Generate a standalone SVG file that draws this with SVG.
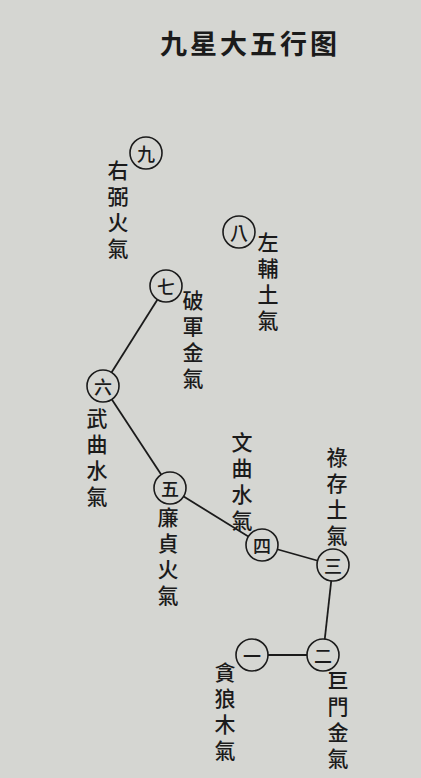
<svg xmlns="http://www.w3.org/2000/svg" width="421" height="778" viewBox="0 0 421 778">
<style>
.bg{fill:#d5d6d2}
.t{font-family:"Noto Sans CJK TC","Noto Sans CJK SC",sans-serif;fill:#1b1b1b;text-anchor:middle;dominant-baseline:central}
.num{font-size:18px;font-weight:500}
.lbl{font-family:"Noto Sans CJK TC","Noto Sans CJK SC",sans-serif;fill:#1b1b1b;font-size:21px;font-weight:500;writing-mode:vertical-rl;letter-spacing:5px}
.title{font-family:"Noto Sans CJK SC",sans-serif;font-size:27px;font-weight:bold;fill:#1b1b1b;text-anchor:middle;dominant-baseline:central;letter-spacing:3px}
.c{fill:#d5d6d2;stroke:#1b1b1b;stroke-width:1.6}
.ln{stroke:#1b1b1b;stroke-width:1.8;fill:none}
</style>
<rect class="bg" x="0" y="0" width="421" height="778"/>
<text class="title" x="250" y="42">九星大五行图</text>
<g id="connectors">
<line class="ln" x1="166" y1="286" x2="103" y2="386"/>
<line class="ln" x1="103" y1="386" x2="170" y2="488"/>
<line class="ln" x1="170" y1="488" x2="262" y2="545"/>
<line class="ln" x1="262" y1="545" x2="333" y2="565"/>
<line class="ln" x1="333" y1="565" x2="323" y2="655"/>
<line class="ln" x1="323" y1="655" x2="252" y2="655"/>
</g>
<g id="n9">
<circle class="c" cx="146" cy="153" r="16"/>
<text class="t num" x="146" y="153">九</text>
<text class="lbl" x="118" y="160">右弼火氣</text>
</g>
<g id="n8">
<circle class="c" cx="239" cy="232" r="16"/>
<text class="t num" x="239" y="232">八</text>
<text class="lbl" x="268" y="232">左輔土氣</text>
</g>
<g id="n7">
<circle class="c" cx="166" cy="286" r="16"/>
<text class="t num" x="166" y="286">七</text>
<text class="lbl" x="193" y="290">破軍金氣</text>
</g>
<g id="n6">
<circle class="c" cx="103" cy="386" r="16"/>
<text class="t num" x="103" y="386">六</text>
<text class="lbl" x="97" y="408">武曲水氣</text>
</g>
<g id="n5">
<circle class="c" cx="170" cy="488" r="16"/>
<text class="t num" x="170" y="488">五</text>
<text class="lbl" x="168" y="507">廉貞火氣</text>
</g>
<g id="n4">
<circle class="c" cx="262" cy="545" r="16"/>
<text class="t num" x="262" y="545">四</text>
<text class="lbl" x="242" y="432">文曲水氣</text>
</g>
<g id="n3">
<circle class="c" cx="333" cy="565" r="16"/>
<text class="t num" x="333" y="565">三</text>
<text class="lbl" x="337" y="447">祿存土氣</text>
</g>
<g id="n2">
<circle class="c" cx="323" cy="655" r="16"/>
<text class="t num" x="323" y="655">二</text>
<text class="lbl" x="338" y="670">巨門金氣</text>
</g>
<g id="n1">
<circle class="c" cx="252" cy="655" r="16"/>
<text class="t num" x="252" y="655">一</text>
<text class="lbl" x="225" y="662">貪狼木氣</text>
</g>
</svg>
